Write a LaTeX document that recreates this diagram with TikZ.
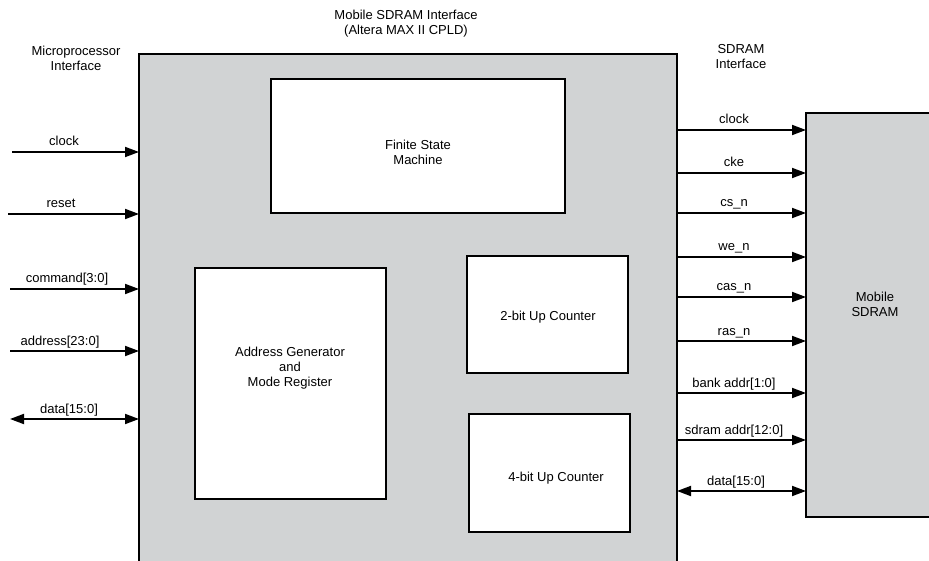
\documentclass[tikz,border=0pt]{standalone}
\usepackage{fontspec}
\setmainfont{Liberation Sans}
\usetikzlibrary{arrows.meta}
\definecolor{boxgray}{HTML}{D1D3D4}
\begin{document}
\begin{tikzpicture}[x=1pt,y=-1pt,
  lbl/.style={font=\fontsize{13}{15}\selectfont, align=center, inner sep=0pt},
  inner/.style={draw=black, line width=1.2pt, fill=white},
  sig/.style={line width=1.8pt, -{Triangle[length=14pt,width=10pt]}},
  bisig/.style={line width=1.8pt, {Triangle[length=14pt,width=10pt]}-{Triangle[length=14pt,width=10pt]}}]
\useasboundingbox (0,0) rectangle (929,561);
% main box
\fill[boxgray] (139,54) rectangle (677,561);
\draw[line width=1.5pt] (139,561) -- (139,54) -- (677,54) -- (677,561);
% SDRAM box
\fill[boxgray] (806,113) rectangle (929,517);
\draw[line width=1.5pt] (929,517) -- (806,517) -- (806,113) -- (929,113);
% inner boxes
\draw[inner] (271,79) rectangle (565,213);
\node[lbl] (fsm) at (418,152) {Finite State\\Machine};
\draw[inner] (195,268) rectangle (386,499);
\node[lbl] (agen) at (290,368) {Address Generator\\and\\Mode Register};
\draw[inner] (467,256) rectangle (628,373);
\node[lbl] (c2) at (548,317) {2-bit Up Counter};
\draw[inner] (469,414) rectangle (630,532);
\node[lbl] (c4) at (556,478) {4-bit Up Counter};
% titles
\node[lbl] (title) at (406,24) {Mobile SDRAM Interface\\(Altera MAX II CPLD)};
\node[lbl] (mpi) at (76,58) {Microprocessor\\Interface};
\node[lbl] (sdi) at (741,57) {SDRAM\\Interface};
\node[lbl] (msd) at (875,304) {Mobile\\SDRAM};
% left signals
\foreach \y/\x/\c/\t/\n in {152/12/64/clock/lc, 214/8/61/reset/lr, 289/10/67/{command[3:0]}/lcm, 351/10/60/{address[23:0]}/la}{
  \coordinate (\n s) at (\x,\y);
  \coordinate (\n e) at (139,\y);
  \draw[sig] (\n s) -- (\n e);
  \node[lbl, anchor=base] (\n l) at (\c,\y-6) {\t};
}
\coordinate (lds) at (10,419);
\coordinate (lde) at (139,419);
\draw[bisig] (lds) -- (lde);
\node[lbl, anchor=base] (ldl) at (69,413) {data[15:0]};
% right signals
\foreach \y/\t/\n in {130/clock/r1, 173/cke/r2, 213/cs\_n/r3, 257/we\_n/r4, 297/cas\_n/r5, 341/ras\_n/r6, 393/{bank addr[1:0]}/r7, 440/{sdram addr[12:0]}/r8}{
  \coordinate (\n s) at (677,\y);
  \coordinate (\n e) at (806,\y);
  \draw[sig] (\n s) -- (\n e);
  \node[lbl, anchor=base] (\n l) at (734,\y-6) {\t};
}
\coordinate (r9s) at (677,491);
\coordinate (r9e) at (806,491);
\draw[bisig] (r9s) -- (r9e);
\node[lbl, anchor=base] (r9l) at (736,485) {data[15:0]};
\end{tikzpicture}
\end{document}
